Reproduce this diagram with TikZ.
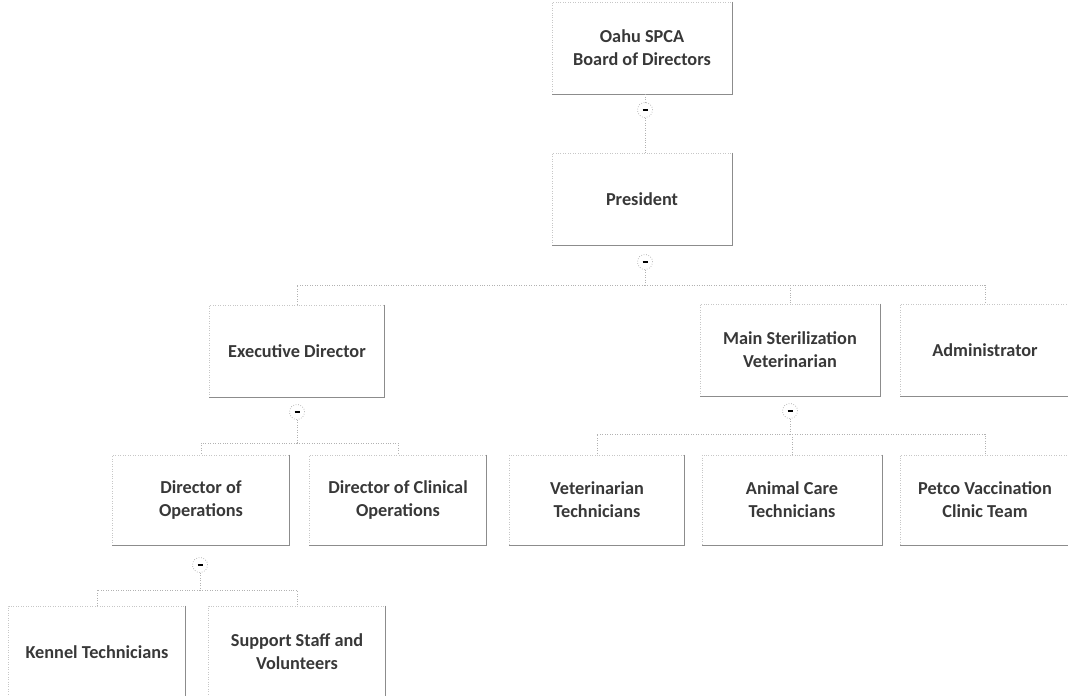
\documentclass[tikz,border=0pt]{standalone}
\usepackage{fontspec}
\setmainfont{Carlito}
\usepackage{tikz}
\usetikzlibrary{positioning}

\begin{document}
\begin{tikzpicture}[x=0.02cm,y=-0.02cm]
	\tikzstyle{every node}+=[inner sep=0pt]
	\tikzstyle{post}=[rectangle, draw=black!22, densely dotted, minimum width=3.6cm, minimum height=1.84cm, align=center, text=black!78, font=\fontsize{10.4}{13}\selectfont\bfseries]
	\tikzstyle{edge}=[draw=black!45, line width=0.5pt]
	\tikzstyle{toggle}=[circle, draw=black!35, densely dotted, minimum size=0.3cm]
	\tikzstyle{link}=[draw=black!30, densely dotted, line width=0.4pt]
	\useasboundingbox (0,0) rectangle (1068,696);
	% boxes
	\node[post] (board) at (642,48) {Oahu SPCA\\Board of Directors};
	\node[post] (pres) at (642,199) {President};
	\node[post, minimum width=3.5cm] (exec) at (297,351) {Executive Director};
	\node[post] (msv) at (790,350) {Main Sterilization\\Veterinarian};
	\node[post, minimum width=3.4cm] (admin) at (985,350) {Administrator};
	\node[post, minimum width=3.54cm, minimum height=1.8cm] (dops) at (201,500) {Director of\\Operations};
	\node[post, minimum width=3.54cm, minimum height=1.8cm] (dclin) at (398,500) {Director of Clinical\\Operations};
	\node[post, minimum width=3.5cm, minimum height=1.8cm] (vtech) at (597,500) {Veterinarian\\Technicians};
	\node[post, minimum height=1.8cm] (acare) at (792,500) {Animal Care\\Technicians};
	\node[post, minimum width=3.4cm, minimum height=1.8cm] (petco) at (985,500) {Petco Vaccination\\Clinic Team};
	\node[post, minimum width=3.54cm] (kennel) at (97,652) {Kennel Technicians};
	\node[post, minimum width=3.54cm] (support) at (297,652) {Support Staff and\\Volunteers};
	\foreach \b in {board,pres,exec,msv,admin,dops,dclin,vtech,acare,petco,kennel,support}
		\draw[edge] (\b.north east) -- (\b.south east) -- (\b.south west);
	% collapse buttons
	\node[toggle] (t1) at (645,110) {\rule{0.1cm}{0.045cm}};
	\node[toggle] (t2) at (645,262) {\rule{0.1cm}{0.045cm}};
	\node[toggle] (t3) at (297,412) {\rule{0.1cm}{0.045cm}};
	\node[toggle] (t4) at (790,411) {\rule{0.1cm}{0.045cm}};
	\node[toggle] (t5) at (200,565) {\rule{0.1cm}{0.045cm}};
	\coordinate (j2) at (645,285);
	\coordinate (j3) at (297,443);
	\coordinate (j4) at (790,434);
	\coordinate (j5) at (200,590);
	% connectors
	\draw[link] (board.south -| t1) -- (t1);
	\draw[link] (t1) -- (t1 |- pres.north);
	\draw[link] (t2) -- (j2);
	\draw[link] (j2) -| (exec.north);
	\draw[link] (j2) -| (msv.north);
	\draw[link] (j2) -| (admin.north);
	\draw[link] (t3) -- (j3);
	\draw[link] (j3) -| (dops.north);
	\draw[link] (j3) -| (dclin.north);
	\draw[link] (t4) -- (j4);
	\draw[link] (j4) -| (vtech.north);
	\draw[link] (j4) -| (acare.north);
	\draw[link] (j4) -| (petco.north);
	\draw[link] (t5) -- (j5);
	\draw[link] (j5) -| (kennel.north);
	\draw[link] (j5) -| (support.north);
\end{tikzpicture}
\end{document}
